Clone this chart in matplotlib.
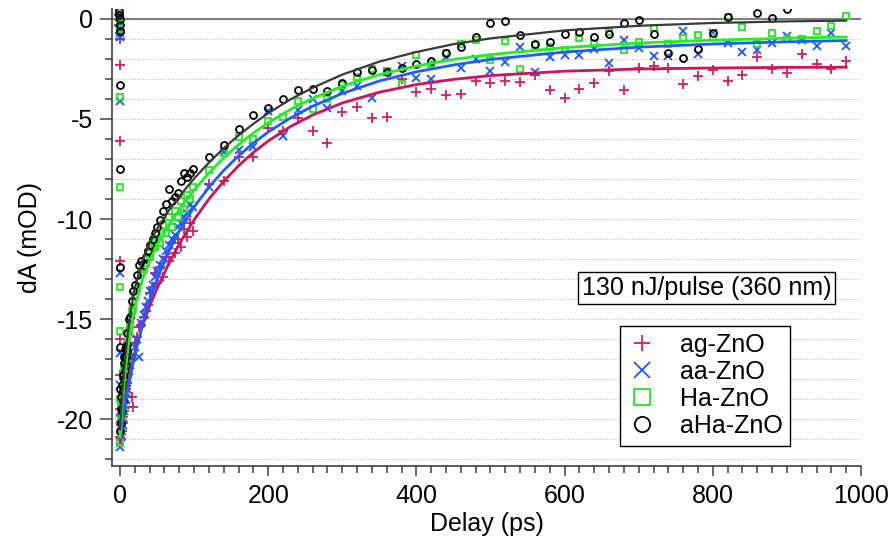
import numpy as np
import matplotlib
matplotlib.use('Agg')
import matplotlib.pyplot as plt
from matplotlib.lines import Line2D
from matplotlib.ticker import MultipleLocator

plt.rcParams['font.family'] = ['Liberation Sans', 'DejaVu Sans']
plt.rcParams['axes.unicode_minus'] = False

# --- data ---------------------------------------------------------------
labels = ['ag-ZnO', 'aa-ZnO', 'Ha-ZnO', 'aHa-ZnO']

# delays (ps)
t_rise = [-1.0, -0.8, -0.6, -0.4, -0.2, 0.0, 0.1, 0.2, 0.3, 0.4]
t_early = [0.5, 1.0, 1.5, 2.0, 2.5, 3.0, 3.5, 4.0, 4.5, 5.0, 5.5, 6.0, 6.5,
           7.0, 7.5, 8.0, 8.5, 9.0, 9.5, 10, 12, 14, 16, 18, 20, 23, 26, 29,
           32, 35, 38, 41, 44, 47, 50, 54, 58, 62, 66, 70, 74, 78, 82, 86,
           90, 94, 98]
t_late = [120, 140, 160, 180, 200, 220, 240, 260, 280, 300, 320, 340, 360,
          380, 400, 420, 440, 460, 480, 500, 520, 540, 560, 580, 600, 620,
          640, 660, 680, 700, 720, 740, 760, 780, 800, 820, 840, 860, 880,
          900, 920, 940, 960, 980]

# ag-ZnO
ag_rise = [0.2, -0.3, -0.7, -1.0, -2.3, -6.1, -12.1, -16.0, -17.8, -19.5]
ag_early = [-20.9, -20.3, -21.0, -19.8, -20.6, -19.5, -20.2, -19.0, -19.9,
            -18.6, -19.6, -18.3, -19.2, -18.0, -18.9, -17.6, -18.5, -17.4,
            -18.2, -17.9, -17.3, -17.0, -18.9, -19.4, -16.2, -15.9, -15.4,
            -15.3, -14.9, -14.6, -14.3, -13.7, -13.4, -12.7, -13.2, -12.4,
            -12.9, -11.9, -12.1, -11.2, -11.7, -11.0, -11.4, -10.5, -10.9,
            -10.2, -10.6]
ag_late = [-8.25, -8.08, -6.88, -6.92, -5.47, -5.6, -4.97, -5.6, -6.18, -4.63,
           -4.42, -4.93, -4.88, -3.0, -3.65, -3.52, -3.78, -3.77, -3.1, -3.22,
           -3.08, -3.13, -2.8, -3.55, -3.97, -3.52, -3.2, -2.58, -3.55, -2.47,
           -2.35, -2.47, -3.25, -2.85, -2.55, -3.08, -2.82, -1.88, -2.52, -2.68,
           -1.75, -2.25, -2.5, -2.1]

# aa-ZnO
aa_rise = [0.1, -0.2, -0.5, -0.7, -0.9, -4.1, -12.7, -16.7, -18.3, -20.0]
aa_early = [-21.4, -20.4, -20.9, -19.9, -20.6, -19.6, -20.3, -19.3, -19.9,
            -19.0, -19.6, -18.7, -19.3, -18.4, -19.0, -18.2, -18.7, -17.9,
            -18.5, -18.0, -17.6, -17.3, -16.9, -16.8, -16.4, -16.0, -16.9,
            -15.2, -14.8, -14.4, -14.1, -13.6, -13.3, -12.9, -12.6, -12.3,
            -12.0, -11.6, -11.3, -11.0, -10.8, -10.4, -10.2, -9.9, -9.7,
            -9.3, -9.4]
aa_late = [-8.38, -6.63, -6.55, -6.38, -4.6, -5.85, -4.55, -4.0, -4.47, -3.58,
           -3.35, -3.93, -2.63, -2.35, -2.97, -3.02, -1.88, -2.43, -2.02, -2.6,
           -2.17, -1.42, -2.63, -1.92, -1.78, -1.8, -1.5, -2.22, -1.05, -1.47,
           -1.83, -1.85, -0.6, -1.77, -0.72, -1.22, -1.67, -1.55, -1.22, -0.83,
           -1.05, -1.35, -0.72, -1.33]

# Ha-ZnO
ha_rise = [0.5, 0.3, 0.1, -0.2, -0.5, -3.9, -8.4, -13.4, -15.6, -19.0]
ha_early = [-21.2, -20.0, -20.6, -19.4, -20.1, -18.9, -19.6, -18.4, -19.1,
            -17.9, -18.6, -17.5, -18.3, -17.1, -17.8, -16.9, -17.4, -16.4,
            -17.0, -16.2, -15.6, -15.3, -14.6, -14.5, -13.8, -13.5, -13.1,
            -12.7, -12.5, -12.2, -11.7, -11.9, -11.2, -11.4, -10.8, -11.2,
            -10.3, -10.7, -9.9, -10.4, -9.6, -9.9, -9.1, -9.5, -8.8, -9.0,
            -8.4]
ha_late = [-7.55, -6.72, -5.92, -5.98, -5.08, -4.88, -4.08, -4.5, -4.0, -3.3,
           -2.88, -2.5, -2.58, -3.25, -1.82, -2.27, -1.72, -1.26, -1.07, -2.05,
           -1.08, -2.51, -1.3, -1.42, -1.55, -0.97, -1.2, -0.63, -1.55, -1.17,
           -0.47, -1.27, -0.93, -0.8, -0.88, 0.12, -0.38, -1.25, -0.72, -1.02,
           -1.02, -0.58, -0.33, 0.17]

# aHa-ZnO
aha_rise = [0.4, 0.2, 0.0, -0.3, -0.6, -3.3, -7.5, -12.4, -16.4, -18.5]
aha_early = [-20.6, -19.5, -20.2, -18.9, -19.6, -18.3, -19.1, -17.8, -18.6,
             -17.2, -18.0, -16.9, -17.6, -16.5, -17.3, -16.4, -16.9, -16.3,
             -16.6, -15.7, -15.0, -14.9, -14.1, -13.6, -13.3, -12.8, -12.3,
             -12.1, -12.3, -11.9, -11.6, -11.3, -11.0, -10.7, -10.4, -10.05,
             -9.6, -9.25, -8.5, -9.1, -8.9, -8.7, -8.1, -7.7, -7.9, -7.7, -7.5]
aha_late = [-6.92, -6.3, -5.52, -4.8, -4.43, -4.02, -3.53, -3.5, -3.58, -3.18,
            -2.63, -2.55, -2.63, -2.45, -2.25, -2.08, -1.68, -1.38, -0.88, -0.18,
            -0.08, -0.78, -1.27, -1.17, -0.75, -0.67, -0.92, -0.75, -0.18, -0.05,
            -0.77, -1.68, -1.95, -1.52, -0.68, 0.12, np.nan, 0.28, 0.07, 0.5,
            np.nan, np.nan, np.nan, np.nan]

# fitted curves
t_fit = [0, 3, 6, 10, 15, 20, 30, 40, 50, 65, 80, 100, 120, 140, 160, 180,
         200, 230, 260, 300, 350, 400, 450, 500, 600, 700, 800, 900, 980]
ag_fit = [-21.2, -20.36, -19.43, -18.42, -17.43, -16.64, -15.39, -14.35,
          -13.48, -12.29, -11.25, -10.04, -9.0, -8.11, -7.34, -6.67, -6.1,
          -5.38, -4.8, -4.2, -3.66, -3.28, -3.02, -2.83, -2.61, -2.5, -2.45,
          -2.42, -2.41]
aa_fit = [-20.95, -20.2, -19.52, -18.66, -17.67, -16.81, -15.3, -14.06, -13.0,
          -11.68, -10.6, -9.4, -8.41, -7.57, -6.84, -6.21, -5.65, -4.95, -4.36,
          -3.72, -3.1, -2.64, -2.3, -2.02, -1.65, -1.41, -1.25, -1.14, -1.08]
ha_fit = [-20.9, -19.31, -18.05, -16.68, -15.39, -14.41, -13.04, -12.08,
          -11.32, -10.36, -9.53, -8.55, -7.69, -6.94, -6.28, -5.7, -5.19,
          -4.52, -3.97, -3.36, -2.78, -2.35, -2.02, -1.78, -1.43, -1.2, -1.06,
          -0.96, -0.9]
aha_fit = [-20.5, -18.74, -17.33, -15.85, -14.49, -13.47, -12.1, -11.19,
           -10.49, -9.62, -8.87, -7.98, -7.18, -6.46, -5.82, -5.24, -4.71,
           -4.02, -3.44, -2.78, -2.13, -1.65, -1.26, -0.97, -0.57, -0.34, -0.2,
           -0.12, -0.08]

colors = ['#d81b5e', '#1f55ff', '#22e622', '#000000']
line_colors = ['#d0145a', '#1f5cff', '#1ff01f', '#3a3a3a']
markers = ['+', 'x', 's', 'o']
msizes = [6.5, 5.5, 5.0, 5.0]

series = [(ag_rise, ag_early, ag_late, ag_fit),
          (aa_rise, aa_early, aa_late, aa_fit),
          (ha_rise, ha_early, ha_late, ha_fit),
          (aha_rise, aha_early, aha_late, aha_fit)]

t_all = np.concatenate([t_rise, t_early, t_late])

fig = plt.figure(figsize=(8.91, 5.48), dpi=100)
ax = fig.add_axes([0.1257, 0.1496, 0.8406, 0.834])

ax.axhline(0, color='#7f7f7f', lw=1.5, zorder=1)

for i, (yr, ye, yl, yf) in enumerate(series):
    y = np.concatenate([yr, ye, yl])
    ax.plot(t_all, y, linestyle='none', marker=markers[i], ms=msizes[i],
            mec=colors[i], mfc='none', mew=1.3, zorder=3 + i)
for i, (yr, ye, yl, yf) in enumerate(series):
    ax.plot(t_fit, yf, color=line_colors[i], lw=2 if i < 3 else 1.6,
            zorder=8 + i)

ax.set_xlim(-10.8, 1000)
ax.set_ylim(-22.35, 0.5)
ax.xaxis.set_major_locator(MultipleLocator(200))
ax.xaxis.set_minor_locator(MultipleLocator(20))
ax.yaxis.set_major_locator(MultipleLocator(5))
ax.yaxis.set_minor_locator(MultipleLocator(1))

ax.yaxis.grid(True, which='both', color='#c4c4c4', linestyle=(0, (1, 1.5)),
              lw=0.8, zorder=0)
ax.set_axisbelow(True)

for s in ['top', 'right']:
    ax.spines[s].set_visible(False)
for s in ['left', 'bottom']:
    ax.spines[s].set_color('#404040')
    ax.spines[s].set_linewidth(1.2)

ax.tick_params(axis='both', which='both', direction='out', color='#404040',
               width=1.1, labelsize=18)
ax.tick_params(axis='x', which='major', length=7, pad=6)
ax.tick_params(axis='x', which='minor', length=5)
ax.tick_params(axis='y', which='major', length=8.5, pad=5)
ax.tick_params(axis='y', which='minor', length=5)

ax.set_xlabel('Delay (ps)', fontsize=18, labelpad=3)
ax.set_ylabel('dA (mOD)', fontsize=18, labelpad=11)

ax.text(0.794, 0.3895, '130 nJ/pulse (360 nm)', transform=ax.transAxes,
        ha='center', va='center', fontsize=18, zorder=20,
        bbox=dict(boxstyle='square,pad=0.15', fc='white', ec='black', lw=1))

handles = [Line2D([], [], linestyle='none', marker=markers[i], ms=11,
                  mec=colors[i], mfc='none', mew=1.3) for i in range(4)]
leg = ax.legend(handles, labels, loc='center', bbox_to_anchor=(0.7917, 0.176),
                fontsize=18, frameon=True, fancybox=False, framealpha=1,
                edgecolor='black', labelspacing=0.12, handlelength=1.2,
                handletextpad=0.9, borderpad=0.3)
leg.get_frame().set_linewidth(1.0)
leg.set_zorder(20)

fig.savefig('out.png', dpi=100)
